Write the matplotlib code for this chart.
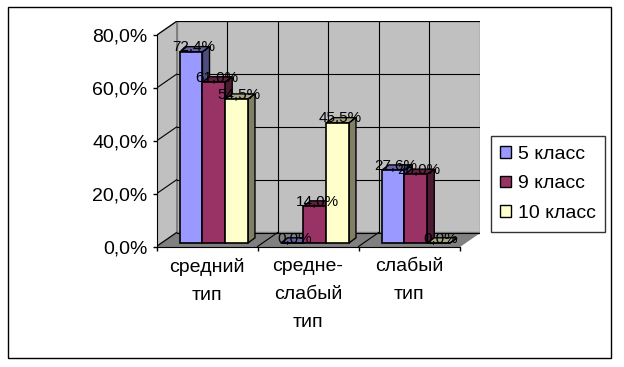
import matplotlib
matplotlib.use("Agg")
import matplotlib.pyplot as plt
from matplotlib.patches import Polygon, Rectangle, Patch

plt.rcParams['font.family'] = ['Liberation Sans', 'DejaVu Sans']

categories = ["средний\nтип", "средне-\nслабый\nтип", "слабый\nтип"]
series_names = ["5 класс", "9 класс", "10 класс"]
values_5 = [72.4, 0.0, 27.6]
values_9 = [61.0, 14.0, 26.0]
values_10 = [54.5, 45.5, 0.0]
series_values = [values_5, values_9, values_10]
colors = ["#9999FF", "#993366", "#FFFFCC"]
yticks = [0, 20, 40, 60, 80]

def shade(c, f):
    c = matplotlib.colors.to_rgb(c)
    return tuple(x * f for x in c)

fig = plt.figure(figsize=(6.24, 3.67), dpi=100)
W, H = 624, 367
# axes placement in pixels
x0, y0 = 156.5, 246.5
ux = 101.0       # px per category
uy = 2.64        # px per percent
DX, DY = 0.2, 5.3  # wall depth in data units
xmax = len(categories) + DX
ymax = 80 + DY
ax = fig.add_axes([x0 / W, (H - y0) / H, xmax * ux / W, ymax * uy / H])
ax.set_xlim(0, xmax)
ax.set_ylim(0, ymax)

ncat = len(categories)
# walls
ax.add_patch(Polygon([(DX, DY), (xmax, DY), (xmax, ymax), (DX, ymax)],
                     closed=True, fc="#C0C0C0", ec="#808080", lw=1, zorder=0))
ax.add_patch(Polygon([(0, 0), (DX, DY), (DX, ymax), (0, 80)],
                     closed=True, fc="#C0C0C0", ec="#808080", lw=1, zorder=0))
ax.add_patch(Polygon([(0, 0), (ncat, 0), (xmax, DY), (DX, DY)],
                     closed=True, fc="#808080", ec="#808080", lw=1, zorder=0))
# gridlines
for v in yticks:
    ax.plot([DX, xmax], [v + DY, v + DY], color="black", lw=0.8, zorder=1)
    ax.plot([0, DX], [v, v + DY], color="black", lw=0.8, zorder=1)
for k in range(1, 2 * ncat):
    ax.plot([DX + 0.5 * k, DX + 0.5 * k], [DY, ymax], color="black", lw=0.8, zorder=1)
for k in range(1, ncat):
    ax.plot([k, k + DX], [0, DY], color="black", lw=0.8, zorder=1)

# bars
ox, oy = 0.05, 1.3     # front face depth offset
bx, by = 0.07, 2.0     # bar depth
bw = 0.225
start = 0.18
for i, (vals, col) in enumerate(zip(series_values, colors)):
    xs = [k + start + ox + i * bw for k in range(ncat)]
    bars = ax.bar(xs, vals, width=bw, bottom=oy, align="edge", color=col,
                  edgecolor="black", linewidth=1.2, zorder=3 + i * 0.1)
    for b, v in zip(bars, vals):
        xl = b.get_x(); xr = xl + b.get_width()
        yb = b.get_y(); yt = yb + b.get_height()
        ax.add_patch(Polygon([(xl, yt), (xr, yt), (xr + bx, yt + by), (xl + bx, yt + by)],
                             closed=True, fc=shade(col, 0.65), ec="black", lw=1.0,
                             zorder=2.9 + i * 0.1))
        ax.add_patch(Polygon([(xr, yb), (xr + bx, yb + by), (xr + bx, yt + by), (xr, yt)],
                             closed=True, fc=shade(col, 0.5), ec="black", lw=1.0,
                             zorder=2.9 + i * 0.1))
        ax.text((xl + xr) / 2 + bx / 2 - 0.01, yt + by - 0.3,
                f"{v:.1f}%".replace(".", ","), ha="center", va="center",
                fontsize=11, color="black", zorder=10)

# axes styling
for s in ["top", "right"]:
    ax.spines[s].set_visible(False)
ax.spines["left"].set_bounds(0, 80)
ax.spines["bottom"].set_bounds(0, ncat)
ax.spines["left"].set_zorder(5)
ax.spines["bottom"].set_zorder(5)
ax.set_yticks(yticks)
ax.set_yticklabels([f"{v:.1f}%".replace(".", ",") for v in yticks], fontsize=14)
ax.tick_params(axis="y", direction="out", length=3, width=1, pad=3.5)
ax.set_xticks(list(range(ncat + 1)))
ax.set_xticklabels([])
ax.tick_params(axis="x", which="major", direction="out", length=3, width=1)
ax.set_xticks([k + 0.5 for k in range(ncat)], minor=True)
ax.set_xticklabels(categories, minor=True, fontsize=14, linespacing=1.85)
ax.tick_params(axis="x", which="minor", length=0, pad=8)

# legend
handles = [Patch(facecolor=c, edgecolor="black", linewidth=1) for c in colors]
leg = fig.legend(handles, series_names, loc="center",
                 bbox_to_anchor=(548 / W, 1 - 184 / H), fontsize=14,
                 frameon=True, fancybox=False, edgecolor="black",
                 handlelength=0.55, handleheight=0.55, handletextpad=0.35,
                 labelspacing=0.65, borderpad=0.5, borderaxespad=0)
leg.get_frame().set_linewidth(1)

# outer border
fig.patches.append(Rectangle((8 / W, (H - 358) / H), (611 - 8) / W, (358 - 7) / H,
                             transform=fig.transFigure, fill=False, ec="black", lw=1))

fig.savefig("out.png", dpi=100)
